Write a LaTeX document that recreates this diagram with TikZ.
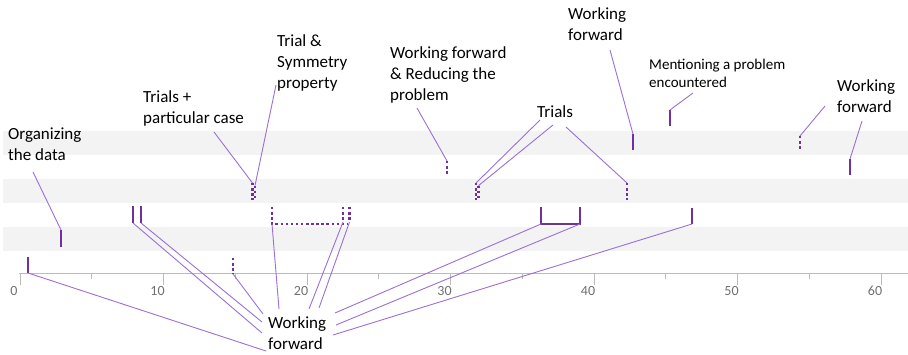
\documentclass[tikz,border=0pt]{standalone}
\usepackage{fontspec}
\setmainfont{Carlito}
\definecolor{mk}{HTML}{7030A0}
\definecolor{cn}{HTML}{9B6FD6}
\definecolor{band}{HTML}{F3F3F3}
\definecolor{axisgray}{HTML}{BBBBBB}
\definecolor{ticklab}{HTML}{707070}
\begin{document}
\begin{tikzpicture}[x=1pt,y=-1pt,
  solidmk/.style={draw=mk,line width=2.6pt},
  dotmk/.style={draw=mk,line width=2.6pt,dash pattern=on 2.5pt off 2.6pt},
  conn/.style={draw=cn,line width=0.9pt},
  axisline/.style={draw=axisgray,line width=1pt},
  ticklabel/.style={font=\fontsize{14}{16}\selectfont,text=ticklab,inner sep=0pt,anchor=center},
  biglabel/.style={font=\fontsize{17}{21}\selectfont,align=left,anchor=base west,inner sep=0pt},
  smalllabel/.style={font=\fontsize{15}{18}\selectfont,align=left,anchor=base west,inner sep=0pt},
]
\useasboundingbox (0,0) rectangle (908,355);
% bands
\fill[band] (3,131) rectangle (908,155);
\fill[band] (3,179) rectangle (908,203);
\fill[band] (3,227) rectangle (908,251);
% axis
\coordinate (axL) at (19,274);
\coordinate (axR) at (908,274);
\draw[axisline] (axL) -- (axR);
\foreach \v in {0,10,...,60} {
  \draw[axisline] ({20+14.35*\v},274) -- ++(0,11);
  \node[ticklabel] (t\v) at ({14+14.35*\v},291) {\v};
}
\foreach \v in {5,15,...,55} {
  \draw[axisline] ({20+14.35*\v},274) -- ++(0,5);
}
% marker coordinates (top / bottom)
\coordinate (mAt) at (28,257);   \coordinate (mAb) at (28,273);
\coordinate (mBt) at (61,230);   \coordinate (mBb) at (61,247);
\coordinate (mCt) at (133,206);  \coordinate (mCb) at (133,223);
\coordinate (mDt) at (141,206);  \coordinate (mDb) at (141,223);
\coordinate (mEt) at (233,258);  \coordinate (mEb) at (233,274);
\coordinate (mFt) at (252.5,183);\coordinate (mFb) at (252.5,200);
\coordinate (mGt) at (255,185.6);\coordinate (mGb) at (255,200);
\coordinate (mHt) at (272,207);  \coordinate (mHb) at (272,224);
\coordinate (mHr) at (348,224);
\coordinate (mIt) at (343,207);  \coordinate (mIb) at (343,222);
\coordinate (mJt) at (349.5,207);\coordinate (mJb) at (349.5,222);
\coordinate (mKt) at (447,161);  \coordinate (mKb) at (447,176);
\coordinate (mLt) at (476,183);  \coordinate (mLb) at (476,200);
\coordinate (mMt) at (478.5,185.6);\coordinate (mMb) at (478.5,200);
\coordinate (mNt) at (541,207);  \coordinate (mNb) at (541,224);
\coordinate (mOt) at (580,207);  \coordinate (mOb) at (580,224);
\coordinate (mPt) at (627,183);  \coordinate (mPb) at (627,200);
\coordinate (mQt) at (633,134);  \coordinate (mQb) at (633,150);
\coordinate (mRt) at (670,110);  \coordinate (mRb) at (670,126);
\coordinate (mSt) at (692,208);  \coordinate (mSb) at (692,224);
\coordinate (mTt) at (800,136);  \coordinate (mTb) at (800,150);
\coordinate (mUt) at (850,159);  \coordinate (mUb) at (850,175);
% solid markers
\draw[solidmk] (mAt) -- (mAb);
\draw[solidmk] (mBt) -- (mBb);
\draw[solidmk] (mCt) -- (mCb);
\draw[solidmk] (mDt) -- (mDb);
\draw[solidmk,line join=miter] (mNt) -- (mNb) -- (mOb) -- (mOt);
\draw[solidmk] (mQt) -- (mQb);
\draw[solidmk] (mRt) -- (mRb);
\draw[solidmk] (mSt) -- (mSb);
\draw[solidmk] (mUt) -- (mUb);
% dotted markers
\draw[dotmk] (mEt) -- (mEb);
\draw[dotmk] (mFt) -- (mFb);
\draw[dotmk] (mGt) -- (mGb);
\draw[dotmk] (mHt) -- (mHb) -- (mHr);
\draw[dotmk] (mIt) -- (mIb);
\draw[dotmk] (mJt) -- (mJb);
\draw[dotmk] (mKt) -- (mKb);
\draw[dotmk] (mLt) -- (mLb);
\draw[dotmk] (mMt) -- (mMb);
\draw[dotmk] (mPt) -- (mPb);
\draw[dotmk] (mTt) -- (mTb);
% labels (anchor = baseline of the last line)
\node[biglabel] (lOrg) at (8,161) {Organizing\\the data};
\node[biglabel] (lTpc) at (143,124) {Trials +\\particular case};
\node[biglabel] (lTsp) at (277,89) {Trial \&\\Symmetry\\property};
\node[biglabel] (lWfr) at (390,101) {Working forward\\\& Reducing the\\problem};
\node[biglabel] (lTri) at (537,118) {Trials};
\node[biglabel] (lWfa) at (568,41) {Working\\forward};
\node[smalllabel] (lMen) at (649,88) {Mentioning a problem\\encountered};
\node[biglabel] (lWfc) at (837,113) {Working\\forward};
\node[biglabel] (lWfb) at (268,350) {Working\\forward};
% label-side connector ends
\coordinate (cOrg) at (33,172);
\coordinate (cTpc) at (214,132);
\coordinate (cTsp) at (276,85);
\coordinate (cWfr) at (417,108);
\coordinate (cTr1) at (540,120);
\coordinate (cTr2) at (553,125);
\coordinate (cTr3) at (566,127);
\coordinate (cWfa) at (610,50);
\coordinate (cMen) at (693,93);
\coordinate (cWc1) at (825,106);
\coordinate (cWc2) at (862,121);
\coordinate (cB1) at (266,351);
\coordinate (cB2) at (262,333);
\coordinate (cB3) at (262,322);
\coordinate (cB4) at (263,314);
\coordinate (cB5) at (279,309);
\coordinate (cB6) at (309,309);
\coordinate (cB7) at (319,308);
\coordinate (cB8) at (335,313);
\coordinate (cB9) at (336,325);
\coordinate (cB10) at (333,335);
% connectors
\draw[conn] (cOrg) -- (mBt);
\draw[conn] (cTpc) -- (mFt);
\draw[conn] (cTsp) -- (mGt);
\draw[conn] (cWfr) -- (mKt);
\draw[conn] (cTr1) -- (mLt);
\draw[conn] (cTr2) -- (mMt);
\draw[conn] (cTr3) -- (mPt);
\draw[conn] (cWfa) -- (mQt);
\draw[conn] (cMen) -- (mRt);
\draw[conn] (cWc1) -- (mTt);
\draw[conn] (cWc2) -- (mUt);
\draw[conn] (mAb) -- (cB1);
\draw[conn] (mCb) -- (cB2);
\draw[conn] (mDb) -- (cB3);
\draw[conn] (mEb) -- (cB4);
\draw[conn] (mHb) -- (cB5);
\draw[conn] (mIb) -- (cB6);
\draw[conn] (mJb) -- (cB7);
\draw[conn] (mNb) -- (cB8);
\draw[conn] (mOb) -- (cB9);
\draw[conn] (mSb) -- (cB10);
\end{tikzpicture}
\end{document}
